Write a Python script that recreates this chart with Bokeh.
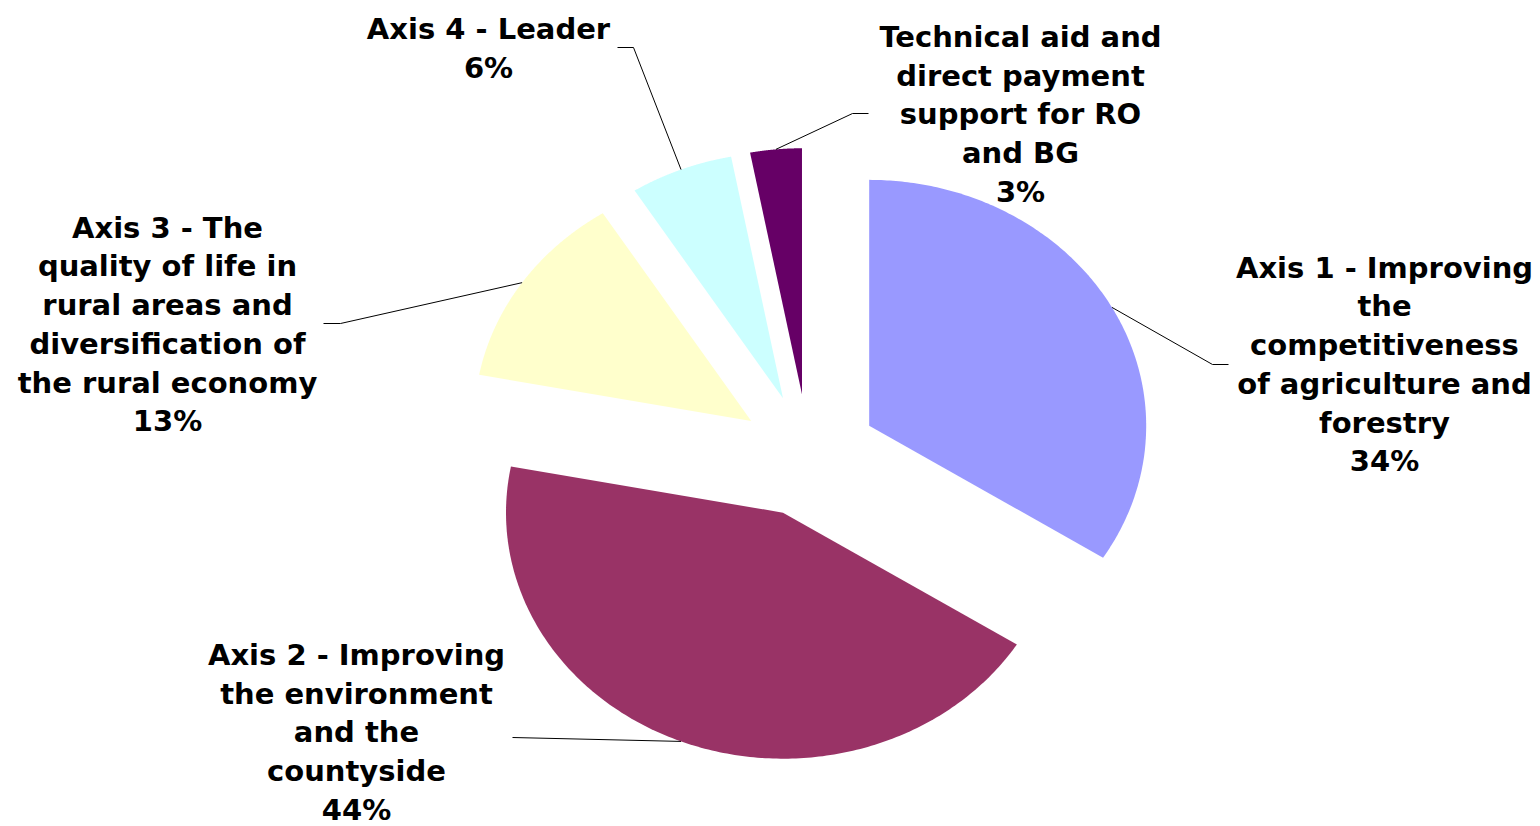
import numpy as np
from bokeh.plotting import figure
from bokeh.models import Range1d, ColumnDataSource
from bokeh.embed import file_html
from bokeh.resources import INLINE
from bokeh.core.properties import value

# ---- data ----
categories = [
    "Axis 1 - Improving\nthe\ncompetitiveness\nof agriculture and\nforestry",
    "Axis 2 - Improving\nthe environment\nand the\ncountyside",
    "Axis 3 - The\nquality of life in\nrural areas and\ndiversification of\nthe rural economy",
    "Axis 4 - Leader",
    "Technical aid and\ndirect payment\nsupport for RO\nand BG",
]
values = [34, 44, 13, 6, 3]
colors = ["#9999FF", "#993366", "#FFFFCC", "#CCFFFF", "#660066"]

# ---- layout (pixels within the plot frame) ----
W, H = 1540, 826
CX, CY = 808, 455          # pie centre
RX, RY = 277, 246          # pie radii (elliptical pie)
EXPLODE = 0.25             # explosion, in radius units
label_pos = [(1384, 364), (356, 732), (167, 324), (488, 48), (1020, 114)]
leader_pts = [
    [(1212, 364), (1228, 364)],
    [(512, 737)],
    [(340, 323), (323, 323)],
    [(633, 47), (617, 47)],
    [(852, 113), (868, 113)],
]


def px(fx, fy):
    return (fx - CX) / RX, (CY - fy) / RY


p = figure(width=W, height=H, output_backend="svg", toolbar_location=None,
           x_range=Range1d(-CX / RX, (W - CX) / RX),
           y_range=Range1d(-(H - CY) / RY, CY / RY),
           x_axis_location=None, y_axis_location=None, min_border=0)
p.grid.visible = False
p.outline_line_color = None
p.background_fill_color = "white"
p.border_fill_color = "white"

total = float(sum(values))
starts = np.concatenate([[0.0], np.cumsum(values)[:-1]]) / total * 360.0
ends = np.cumsum(values) / total * 360.0

xs, ys = [], []
lx, ly = [], []
for a0, a1 in zip(starts, ends):
    mid = np.radians((a0 + a1) / 2.0)
    ox, oy = EXPLODE * np.sin(mid), EXPLODE * np.cos(mid)
    t = np.radians(np.linspace(a0, a1, 200))
    xs.append(list(np.concatenate([[ox], ox + np.sin(t), [ox]])))
    ys.append(list(np.concatenate([[oy], oy + np.cos(t), [oy]])))
    lx.append(ox + np.sin(mid))
    ly.append(oy + np.cos(mid))

p.patches(xs=xs, ys=ys, fill_color=colors, line_color=None)

# leader lines: from mid-arc of each slice to its label
lxs, lys = [], []
for i in range(len(values)):
    pts = [px(*q) for q in leader_pts[i]]
    lxs.append([lx[i]] + [q[0] for q in pts])
    lys.append([ly[i]] + [q[1] for q in pts])
p.multi_line(xs=lxs, ys=lys, line_color="black", line_width=1)

labels = [f"{c}\n{v}%" for c, v in zip(categories, values)]
tx = [px(*q)[0] for q in label_pos]
ty = [px(*q)[1] for q in label_pos]
src = ColumnDataSource(dict(x=tx, y=ty, text=labels))
p.text(x="x", y="y", text="text", source=src,
       text_font=value("DejaVu Sans"), text_font_style="bold",
       text_font_size="29px", text_align="center", text_baseline="middle",
       text_line_height=1.14, text_color="black")

open("out.html", "w").write(file_html(p, INLINE))
